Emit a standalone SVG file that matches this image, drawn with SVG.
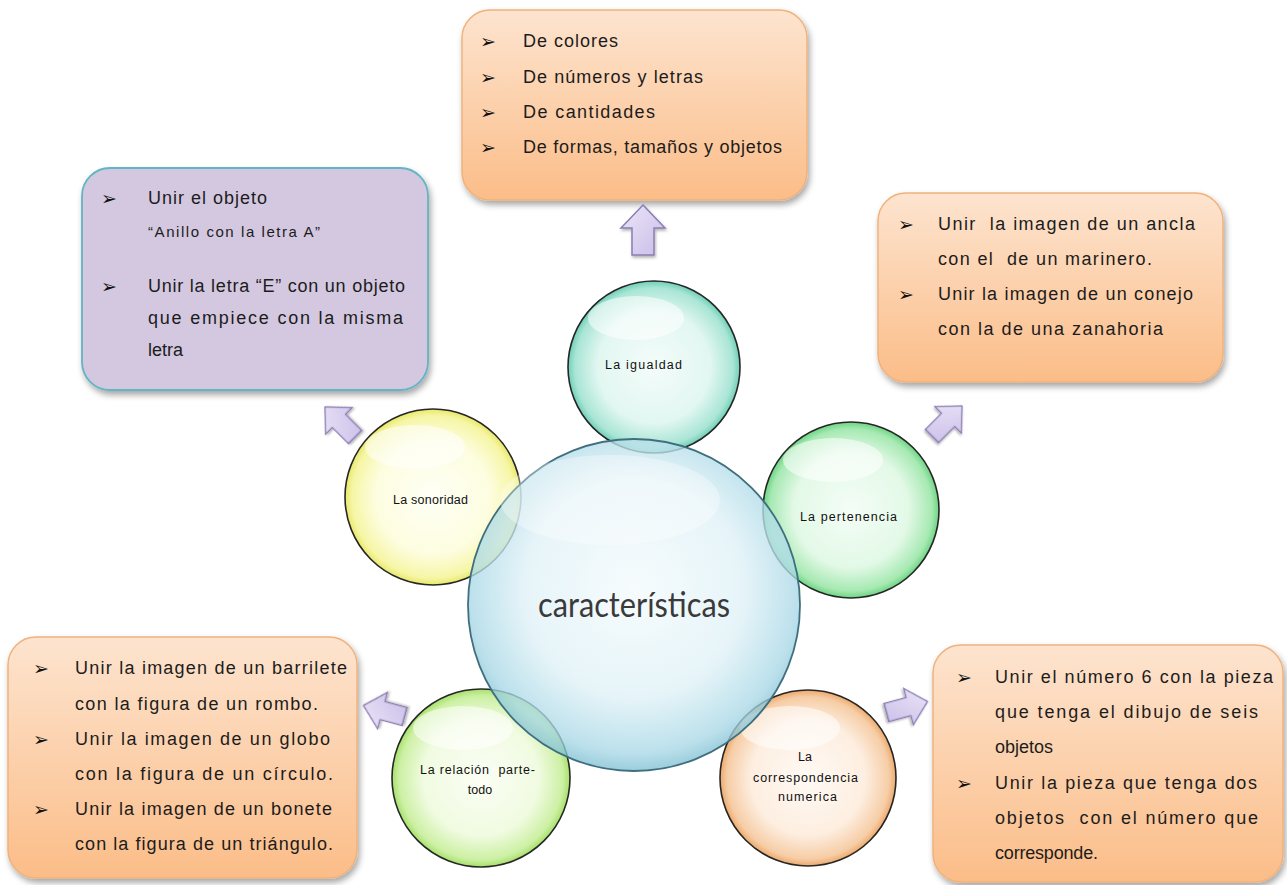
<svg xmlns="http://www.w3.org/2000/svg" width="1287" height="885" viewBox="0 0 1287 885">
<defs>
<style>
.t{font-family:"Liberation Sans",Arial,sans-serif;font-size:18px;fill:#1c1c1c;white-space:pre}
.s{font-size:15px}
.b{font-family:"DejaVu Sans",sans-serif;font-size:19px;fill:#111}
.l{font-family:"Liberation Sans",Arial,sans-serif;font-size:12.5px;fill:#111;white-space:pre}
.box{fill:url(#gOr);stroke:#f0b27c;stroke-width:1.5;filter:url(#sh)}
.circ{stroke:#262626;stroke-width:1.6}
.arr{fill:url(#gAr);stroke:#8b7db3;stroke-width:1.5;filter:url(#sh2)}
</style>
<filter id="sh" x="-10%" y="-10%" width="125%" height="125%"><feDropShadow dx="2" dy="4" stdDeviation="3" flood-color="#000" flood-opacity="0.35"/></filter>
<filter id="sh2" x="-30%" y="-30%" width="160%" height="160%"><feDropShadow dx="1" dy="2" stdDeviation="1.5" flood-color="#000" flood-opacity="0.3"/></filter>
<linearGradient id="gOr" x1="0" y1="0" x2="0" y2="1"><stop offset="0" stop-color="#fde4cf"/><stop offset="1" stop-color="#fbbd88"/></linearGradient>
<linearGradient id="gAr" x1="0" y1="0" x2="1" y2="1"><stop offset="0" stop-color="#ece6f8"/><stop offset="1" stop-color="#c9bde8"/></linearGradient>
<radialGradient id="gC" cx="0.5" cy="0.45" r="0.55"><stop offset="0" stop-color="#f4fbfd"/><stop offset="0.6" stop-color="#dff1f7"/><stop offset="0.9" stop-color="#a9d8e6"/><stop offset="1" stop-color="#7fbfd2"/></radialGradient>
<radialGradient id="gI" cx="0.5" cy="0.5" r="0.5"><stop offset="0" stop-color="#f4fcfa"/><stop offset="0.65" stop-color="#e2f7f1"/><stop offset="0.92" stop-color="#a9e5d5"/><stop offset="1" stop-color="#6fcfb7"/></radialGradient>
<radialGradient id="gS" cx="0.5" cy="0.5" r="0.5"><stop offset="0" stop-color="#fffff6"/><stop offset="0.65" stop-color="#fdfde0"/><stop offset="0.92" stop-color="#f6f6a6"/><stop offset="1" stop-color="#e8e86a"/></radialGradient>
<radialGradient id="gP" cx="0.5" cy="0.5" r="0.5"><stop offset="0" stop-color="#f4fdf6"/><stop offset="0.65" stop-color="#e3f9e7"/><stop offset="0.92" stop-color="#a6e9b2"/><stop offset="1" stop-color="#6dd483"/></radialGradient>
<radialGradient id="gR" cx="0.5" cy="0.5" r="0.5"><stop offset="0" stop-color="#fbfef5"/><stop offset="0.65" stop-color="#f0fbe1"/><stop offset="0.92" stop-color="#ccf0a3"/><stop offset="1" stop-color="#a6e06a"/></radialGradient>
<radialGradient id="gN" cx="0.5" cy="0.5" r="0.5"><stop offset="0" stop-color="#fffaf5"/><stop offset="0.65" stop-color="#fdeee0"/><stop offset="0.92" stop-color="#f6cda6"/><stop offset="1" stop-color="#eda96c"/></radialGradient>
<path id="blk" d="M0,-25 L22,-2 L11,-2 L11,25 L-11,25 L-11,-2 L-22,-2 Z"/>
</defs>
<rect width="1287" height="885" fill="#ffffff"/>

<g id="box-top">
<rect class="box" x="462" y="10" width="345" height="190" rx="28"/>
<text class="b" x="480" y="48">➢</text><text class="t" x="523" y="47" textLength="95">De colores</text>
<text class="b" x="480" y="84">➢</text><text class="t" x="523" y="83" textLength="180">De números y letras</text>
<text class="b" x="480" y="119">➢</text><text class="t" x="523" y="118" textLength="132">De cantidades</text>
<text class="b" x="480" y="154">➢</text><text class="t" x="523" y="153" textLength="259">De formas, tamaños y objetos</text>
</g>

<g id="box-purple">
<rect x="82" y="168" width="346" height="222" rx="28" fill="#d3c8e0" stroke="#63b4c4" stroke-width="1.8" filter="url(#sh)"/>
<text class="b" x="101" y="205">➢</text><text class="t" x="148" y="204" textLength="119">Unir el objeto</text>
<text class="t s" x="148" y="237" textLength="172">“Anillo con la letra A”</text>
<text class="b" x="101" y="293">➢</text><text class="t" x="148" y="292" textLength="257">Unir la letra “E” con un objeto</text>
<text class="t" x="148" y="324" textLength="255">que empiece con la misma</text>
<text class="t" x="148" y="356">letra</text>
</g>

<g id="box-right">
<rect class="box" x="878" y="193" width="345" height="189" rx="28"/>
<text class="b" x="898" y="231">➢</text><text class="t" x="938" y="230" textLength="257">Unir  la imagen de un ancla</text>
<text class="t" x="938" y="265" textLength="214">con el  de un marinero.</text>
<text class="b" x="898" y="301">➢</text><text class="t" x="938" y="300" textLength="255">Unir la imagen de un conejo</text>
<text class="t" x="938" y="335" textLength="225">con la de una zanahoria</text>
</g>

<g id="box-bottom-left">
<rect class="box" x="8" y="637" width="349" height="241" rx="28"/>
<text class="b" x="33" y="675">➢</text><text class="t" x="75" y="674" textLength="272">Unir la imagen de un barrilete</text>
<text class="t" x="75" y="710" textLength="243">con la figura de un rombo.</text>
<text class="b" x="33" y="746">➢</text><text class="t" x="75" y="745" textLength="255">Unir la imagen de un globo</text>
<text class="t" x="75" y="780" textLength="258">con la figura de un círculo.</text>
<text class="b" x="33" y="816">➢</text><text class="t" x="75" y="815" textLength="257">Unir la imagen de un bonete</text>
<text class="t" x="75" y="850" textLength="258">con la figura de un triángulo.</text>
</g>

<g id="box-bottom-right">
<rect class="box" x="933" y="645" width="350" height="237" rx="28"/>
<text class="b" x="956" y="684">➢</text><text class="t" x="995" y="683" textLength="278">Unir el número 6 con la pieza</text>
<text class="t" x="995" y="718" textLength="263">que tenga el dibujo de seis</text>
<text class="t" x="995" y="753">objetos</text>
<text class="b" x="956" y="790">➢</text><text class="t" x="995" y="789" textLength="262">Unir la pieza que tenga dos</text>
<text class="t" x="995" y="824" textLength="263">objetos  con el número que</text>
<text class="t" x="995" y="859" textLength="103">corresponde.</text>
</g>

<g id="connectors">
<use href="#blk" class="arr" transform="translate(643,230)"/>
<use href="#blk" class="arr" transform="translate(340,422) rotate(-45) scale(0.85)"/>
<use href="#blk" class="arr" transform="translate(947,421) rotate(45) scale(0.85)"/>
<use href="#blk" class="arr" transform="translate(384,711) rotate(-75) scale(0.85)"/>
<use href="#blk" class="arr" transform="translate(907,707) rotate(75) scale(0.85)"/>
</g>

<g id="node-igualdad">
<circle class="circ" cx="654" cy="367" r="86" fill="url(#gI)"/>
<ellipse cx="636" cy="318" rx="48" ry="22" fill="#ffffff" opacity="0.55"/>
<text class="l" x="605" y="369" textLength="77">La igualdad</text>
</g>
<g id="node-sonoridad">
<circle class="circ" cx="433" cy="497" r="88" fill="url(#gS)"/>
<ellipse cx="415" cy="447" rx="50" ry="22" fill="#ffffff" opacity="0.55"/>
<text class="l" x="393" y="504" textLength="75">La sonoridad</text>
</g>
<g id="node-pertenencia">
<circle class="circ" cx="851" cy="510" r="88" fill="url(#gP)" stroke="#1d3d22"/>
<ellipse cx="833" cy="460" rx="50" ry="22" fill="#ffffff" opacity="0.55"/>
</g>
<g id="node-relacion">
<circle class="circ" cx="481" cy="778" r="89" fill="url(#gR)" stroke="#1f3310"/>
<ellipse cx="463" cy="728" rx="50" ry="22" fill="#ffffff" opacity="0.55"/>
</g>
<g id="node-correspondencia">
<circle class="circ" cx="808" cy="778" r="88" fill="url(#gN)" stroke="#2e1c0c"/>
<ellipse cx="790" cy="728" rx="50" ry="22" fill="#ffffff" opacity="0.55"/>
</g>

<g id="node-caracteristicas">
<circle cx="634" cy="605" r="166" fill="url(#gC)" fill-opacity="0.78" stroke="#3f6f7e" stroke-width="1.8"/>
<ellipse cx="610" cy="500" rx="110" ry="45" fill="#ffffff" opacity="0.35"/>
<text x="634" y="617" text-anchor="middle" font-family="Lato,'Liberation Sans',sans-serif" font-size="34" fill="#3a3a3a" textLength="192" lengthAdjust="spacingAndGlyphs">características</text>
</g>

<g id="labels">
<text class="l" x="800" y="521" textLength="97">La pertenencia</text>
<text class="l" x="420" y="774" textLength="115">La relación  parte-</text>
<text class="l" x="480" y="794" text-anchor="middle">todo</text>
<text class="l" x="805" y="761" text-anchor="middle">La</text>
<text class="l" x="753" y="782" textLength="105">correspondencia</text>
<text class="l" x="778" y="801" textLength="59">numerica</text>
</g>
</svg>
